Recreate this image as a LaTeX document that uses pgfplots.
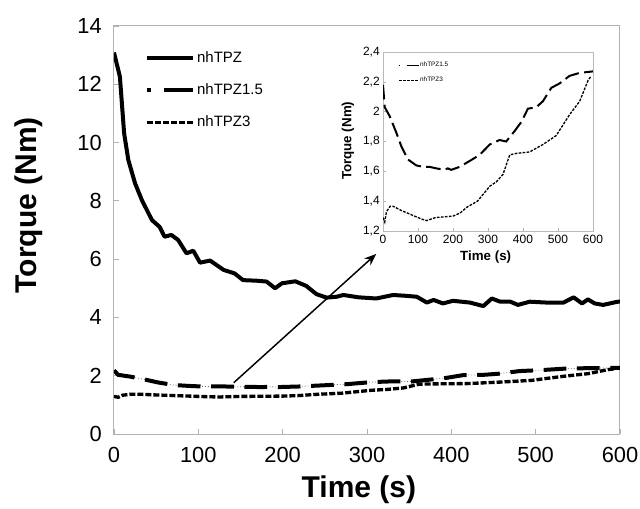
\documentclass[border=0pt]{standalone}
\usepackage{pgfplots}
\pgfplotsset{compat=1.18}
\usepackage{fontspec}
\setmainfont{Liberation Sans}
\usetikzlibrary{arrows.meta}

\pgfplotstableread{
x y
0 13.09
7 12.26
12 10.32
17 9.40
25 8.60
33 8.03
45 7.34
54 7.11
60 6.77
68 6.83
76 6.66
86 6.20
94 6.29
102 5.88
114 5.95
130 5.63
143 5.51
153 5.28
169 5.26
181 5.23
191 5.00
199 5.17
215 5.24
228 5.08
240 4.80
252 4.68
264 4.71
272 4.77
290 4.69
311 4.65
331 4.77
347 4.74
359 4.71
371 4.51
379 4.60
390 4.48
402 4.57
422 4.51
438 4.39
448 4.65
458 4.54
470 4.54
479 4.43
493 4.54
513 4.51
533 4.51
545 4.69
555 4.48
562 4.62
570 4.48
580 4.43
594 4.52
600 4.55
}\tpz

\pgfplotstableread{
x y
0 2.18
5 2.03
19 1.97
38 1.86
52 1.77
71 1.68
95 1.64
114 1.63
133 1.63
152 1.62
176 1.61
185 1.62
195 1.61
219 1.63
248 1.67
276 1.71
305 1.78
333 1.81
352 1.80
376 1.87
395 1.93
414 2.02
438 2.03
457 2.07
481 2.16
505 2.19
533 2.24
562 2.26
600 2.27
}\tpzA

\pgfplotstableread{
x y
0 1.29
5 1.26
10 1.33
20 1.365
30 1.365
50 1.34
80 1.31
110 1.28
125 1.27
150 1.29
200 1.30
220 1.32
240 1.36
270 1.40
305 1.50
324 1.53
343 1.58
362 1.71
380 1.72
419 1.73
457 1.78
495 1.84
533 1.98
562 2.07
586 2.21
595 2.24
}\tpzB

\begin{document}
\begin{tikzpicture}
\useasboundingbox (-85.5pt,-55.5pt) rectangle (394.5pt,325.5pt);
\begin{axis}[
  at={(0pt,0pt)}, anchor=south west,
  scale only axis, width=379.5pt, height=306pt,
  xmin=0, xmax=600, ymin=0, ymax=14,
  xtick={0,100,...,600}, ytick={0,2,...,14},
  xtick pos=left, ytick pos=left,
  tick align=inside, major tick length=4pt,
  axis line style={draw=gray!60, line width=0.75pt},
  tick style={draw=gray!60, line width=0.6pt},
  /pgf/number format/assume math mode=true,
  ticklabel style={font=\fontsize{16.4}{19}\selectfont},
  xticklabel style={anchor=center, yshift=-15.75pt},
  yticklabel style={anchor=east, inner sep=0pt, xshift=-9pt},
  xlabel={Time (s)}, ylabel={Torque (Nm)},
  every axis x label/.style={at={(axis description cs:0.484,-0.137)}, anchor=center, font=\fontsize{22.5}{26}\selectfont\bfseries},
  every axis y label/.style={at={(axis description cs:-0.168,0.561)}, anchor=center, rotate=90, font=\fontsize{22.5}{26}\selectfont\bfseries},
  legend image code/.code={\draw[#1] (0pt,0pt) -- (34.5pt,0pt);},
  legend cell align=left,
  legend style={draw=none, fill=none, inner sep=0pt, row sep=11.3pt,
    font=\fontsize{11.25}{13}\selectfont, nodes={inner sep=1.5pt},
    at={(axis description cs:0.061,0.942)}, anchor=north west},
]
\addlegendimage{black, line width=3pt}
\addlegendentry{nhTPZ}
\addlegendimage{black, line width=3pt, dash pattern=on 3pt off 10pt on 21.5pt off 10pt}
\addlegendentry{nhTPZ1.5}
\addlegendimage{black, line width=2.5pt, dash pattern=on 4.5pt off 1.5pt}
\addlegendentry{nhTPZ3}
\addplot[forget plot, black, line width=3pt, line join=round] table[x=x,y=y]{\tpz};
\addplot[forget plot, black!60, line width=0.6pt, dash pattern=on 0.6pt off 1.6pt] table[x=x,y=y]{\tpzA};
\addplot[forget plot, black, line width=3pt, dash pattern=on 17pt off 8pt] table[x=x,y=y]{\tpzA};
\addplot[forget plot, black, line width=2.5pt, dash pattern=on 4.5pt off 1.5pt] table[x=x,y=y]{\tpzB};
\draw[-{Stealth[length=9pt,width=7pt]}, line width=1.1pt] (axis cs:142,1.76) -- (axis cs:311,6.18);
\end{axis}

\begin{axis}[
  at={(201.75pt,152.25pt)}, anchor=south west,
  scale only axis, width=157.5pt, height=134.25pt,
  axis background/.style={fill=white},
  xmin=0, xmax=600, ymin=1.2, ymax=2.4,
  xtick={0,100,...,600}, ytick={1.2,1.4,...,2.41},
  xtick pos=left, ytick pos=left,
  tick align=inside, major tick length=2pt,
  axis line style={draw=gray!55, line width=0.6pt},
  tick style={draw=gray!60, line width=0.5pt},
  /pgf/number format/assume math mode=true,
  /pgf/number format/use comma, /pgf/number format/precision=1,
  ticklabel style={font=\fontsize{9}{10}\selectfont},
  xticklabel style={anchor=center, yshift=-6pt},
  yticklabel style={anchor=east, inner sep=0pt, xshift=-2.25pt},
  xlabel={Time (s)}, ylabel={Torque (Nm)},
  every axis x label/.style={at={(axis description cs:0.489,-0.145)}, anchor=center, font=\fontsize{10}{12}\selectfont\bfseries},
  every axis y label/.style={at={(axis description cs:-0.167,0.504)}, anchor=center, rotate=90, font=\fontsize{10}{12}\selectfont\bfseries},
  legend image code/.code={\draw[#1] (0pt,0pt) -- (15pt,0pt);},
  legend cell align=left,
  legend style={draw=none, fill=none, inner sep=0pt, row sep=5.3pt,
    font=\fontsize{4.8}{5.5}\selectfont, nodes={inner sep=0.5pt},
    at={(axis description cs:0.071,0.95)}, anchor=north west},
]
\addlegendimage{black, line width=1pt, dash pattern=on 1pt off 5pt on 9pt off 3pt}
\addlegendentry{nhTPZ1.5}
\addlegendimage{black, line width=0.9pt, dash pattern=on 2pt off 1pt}
\addlegendentry{nhTPZ3}
\addplot[forget plot, black, line width=1.5pt, dash pattern=on 11pt off 4pt] table[x=x,y=y]{\tpzA};
\addplot[forget plot, black, line width=1pt, dash pattern=on 2pt off 1pt] table[x=x,y=y]{\tpzB};
\end{axis}
\end{tikzpicture}
\end{document}
